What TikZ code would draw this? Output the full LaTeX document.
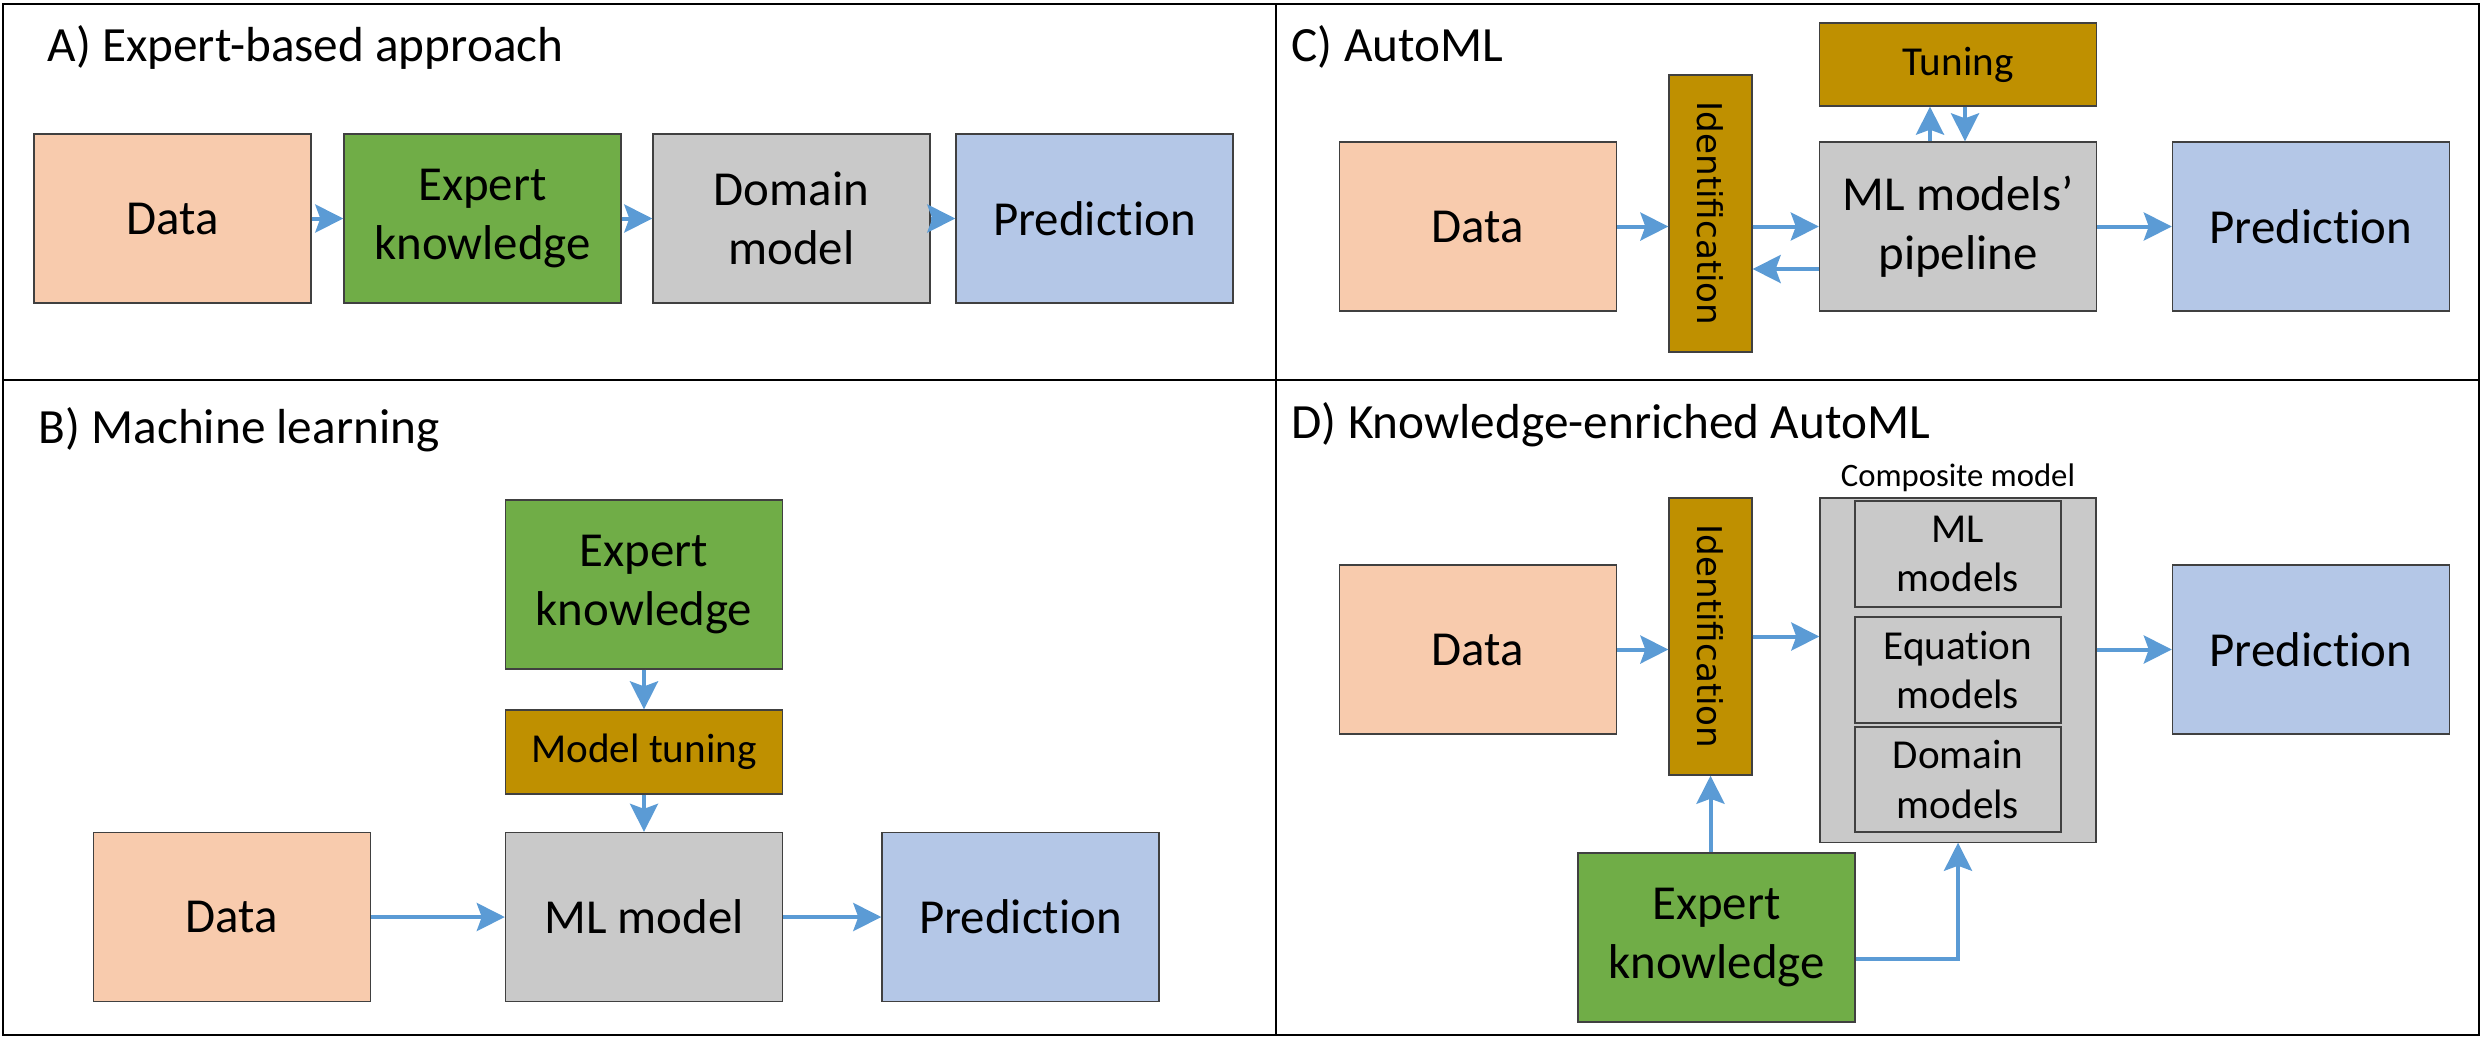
\documentclass[tikz,border=0pt]{standalone}
\usepackage{fontspec}
\usepackage{graphicx}
\setmainfont{Carlito}[Ligatures={NoCommon}]
\newfontfamily\idfont{DejaVu Sans}
\usetikzlibrary{arrows.meta,calc}
\definecolor{cPeach}{HTML}{F8CBAD}
\definecolor{cGreen}{HTML}{70AD47}
\definecolor{cGray}{HTML}{C9C9C9}
\definecolor{cBlue}{HTML}{B4C7E7}
\definecolor{cGold}{HTML}{BF9000}
\definecolor{cArrow}{HTML}{5B9BD5}
\definecolor{cBorder}{HTML}{404040}
\begin{document}
\begin{tikzpicture}[x=0.01cm,y=-0.01cm,
  blk/.style={draw=cBorder, line width=0.35pt, inner sep=0pt, align=center,
    font=\fontsize{13.9}{16.9}\selectfont, minimum width=27.7mm, minimum height=16.9mm},
  small/.style={font=\fontsize{11.7}{14}\selectfont},
  ttl/.style={anchor=base west, inner sep=0pt, font=\fontsize{14}{17}\selectfont},
  idbox/.style={blk, fill=cGold, minimum width=8.3mm, minimum height=27.7mm,
    font=\idfont\fontsize{9.7}{11}\selectfont},
  arr/.style={-{Stealth[length=2.8mm,width=2.8mm,inset=0.5mm]}, draw=cArrow, line width=0.4mm},
  frame/.style={draw=black, line width=0.22mm}]
\useasboundingbox (0,0) rectangle (2484,1038);
% frame
\draw[frame] (3,4) rectangle (2479,1035);
\draw[frame] (1276,4) -- (1276,1035);
\draw[frame] (3,380) -- (2479,380);
% titles
\node[ttl] (tA) at (47,61) {A) Expert-based approach};
\node[ttl] (tB) at (38,443) {B) Machine learning};
\node[ttl] (tC) at (1291,61) {C) AutoML};
\node[ttl] (tD) at (1291,438) {D) Knowledge-enriched AutoML};
% ---------- Panel A
\node[blk, fill=cPeach] (A_data) at (172.5,218.5) {Data};
\node[blk, fill=cGreen] (A_exp) at (482.5,218.5) {Expert\\knowledge};
\node[blk, fill=cGray] (A_dom) at (791.5,218.5) {Domain\\model};
\node[blk, fill=cBlue] (A_pred) at (1094.5,218.5) {Prediction};
\draw[arr] (A_data) -- (A_exp);
\draw[arr] (A_exp) -- (A_dom);
\draw[arr] (A_dom) -- (A_pred);
% ---------- Panel B
\node[blk, fill=cGreen] (B_exp) at (644,584.5) {Expert\\knowledge};
\node[blk, fill=cGold, small, minimum height=8.4mm] (B_tun) at (644,752) {Model tuning};
\node[blk, fill=cGray] (B_ml) at (644,917) {ML model};
\node[blk, fill=cPeach] (B_data) at (232,917) {Data};
\node[blk, fill=cBlue] (B_pred) at (1020.5,917) {Prediction};
\draw[arr] (B_exp) -- (B_tun);
\draw[arr] (B_tun) -- (B_ml);
\draw[arr] (B_data) -- (B_ml);
\draw[arr] (B_ml) -- (B_pred);
% ---------- Panel C
\node[blk, fill=cGold, small, minimum height=8.3mm] (C_tun) at (1958,64.5) {Tuning};
\node[idbox] (C_id) at (1710.5,213.5) {\rotatebox{-90}{Identification}};
\node[blk, fill=cPeach] (C_data) at (1478,226.5) {Data};
\node[blk, fill=cGray] (C_ml) at (1958,226.5) {ML models'\\pipeline};
\node[blk, fill=cBlue] (C_pred) at (2311,226.5) {Prediction};
\draw[arr] (C_data.east) -- (C_data.east -| C_id.west);
\draw[arr] (C_id.east |- C_ml.west) -- (C_ml.west);
\coordinate (c1) at ($(C_ml.west)+(0,42.5)$);
\draw[arr] (c1) -- (c1 -| C_id.east);
\draw[arr] (C_ml) -- (C_pred);
\coordinate (c2) at ($(C_ml.north)+(-28,0)$);
\draw[arr] (c2) -- (c2 |- C_tun.south);
\coordinate (c3) at ($(C_tun.south)+(7,0)$);
\draw[arr] (c3) -- (c3 |- C_ml.north);
% ---------- Panel D
\node[draw=cBorder, line width=0.35pt, fill=cGray, minimum width=27.6mm, minimum height=34.4mm, inner sep=0pt] (D_comp) at (1958,670) {};
\node[font=\fontsize{9.3}{11}\selectfont, anchor=base, inner sep=0pt] (D_lbl) at (1958,486) {Composite model};
\node[blk, fill=cGray, small, minimum width=20.6mm, minimum height=10.6mm] (D_mlm) at (1958,554) {ML\\models};
\node[blk, fill=cGray, small, minimum width=20.6mm, minimum height=10.6mm] (D_eqm) at (1958,670) {Equation\\models};
\node[blk, fill=cGray, small, minimum width=20.6mm, minimum height=10.5mm] (D_dmm) at (1958,779.5) {Domain\\models};
\node[blk, fill=cPeach] (D_data) at (1478,649.5) {Data};
\node[idbox] (D_id) at (1710.5,636.5) {\rotatebox{-90}{Identification}};
\node[blk, fill=cBlue] (D_pred) at (2311,649.5) {Prediction};
\node[blk, fill=cGreen] (D_exp) at (1716.5,937.5) {Expert\\knowledge};
\draw[arr] (D_data.east) -- (D_data.east -| D_id.west);
\draw[arr] (D_id.east) -- (D_id.east -| D_comp.west);
\draw[arr] (D_pred.west -| D_comp.east) -- (D_pred.west);
\draw[arr] (D_id.south |- D_exp.north) -- (D_id.south);
\coordinate (d1) at ($(D_exp.east)+(0,21.5)$);
\draw[arr] (d1) -| (D_comp.south);
\end{tikzpicture}
\end{document}
